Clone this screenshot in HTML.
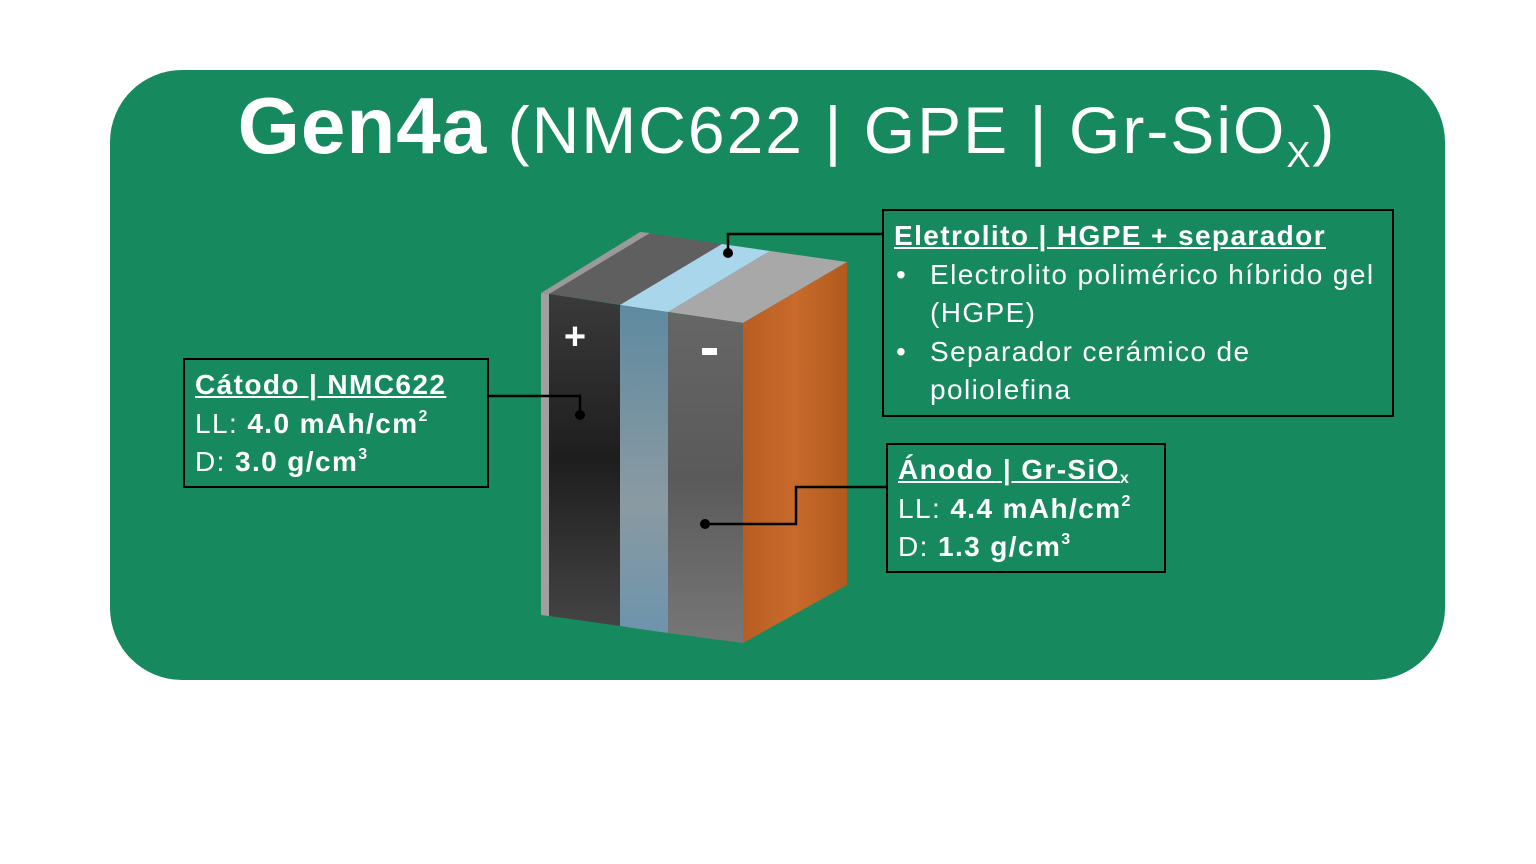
<!DOCTYPE html>
<html><head><meta charset="utf-8"><style>
body{margin:0;width:1536px;height:864px;background:#fff;position:relative;overflow:hidden;font-family:"Liberation Sans",sans-serif;}
.bg{position:absolute;left:110px;top:70px;width:1335px;height:610px;border-radius:72px;background:#168a5e;}
.title{position:absolute;left:0;width:1574px;top:80px;text-align:center;color:#fff;font-size:66px;white-space:nowrap;letter-spacing:2px;}
.title b{font-size:80px;letter-spacing:1px;}
.title sub{font-size:36px;vertical-align:-14px;}
.box{position:absolute;border:2.5px solid #000;color:#fff;font-size:28px;letter-spacing:1.4px;line-height:38.5px;box-sizing:border-box;padding:6px 10px;white-space:nowrap;}
.box u{font-weight:bold;}
.box sup{font-size:16px;vertical-align:12px;line-height:0}
.box sub{font-size:16px;vertical-align:-4px;line-height:0}
ul{margin:0;padding:0 0 0 36px;}
li{list-style:none;position:relative}
li:before{content:"•";position:absolute;left:-34px}
</style></head><body>
<div class="bg"></div>
<div class="title"><b>Gen4a</b> (NMC622 | GPE | Gr-SiO<sub>X</sub>)</div>
<svg width="1536" height="864" style="position:absolute;left:0;top:0">
<defs>
<linearGradient id="blk" x1="0" y1="0" x2="0" y2="1"><stop offset="0" stop-color="#3a3a3a"/><stop offset=".5" stop-color="#1e1e1e"/><stop offset="1" stop-color="#444"/></linearGradient>
<linearGradient id="blu" x1="0" y1="0" x2="0" y2="1"><stop offset="0" stop-color="#5e8aa0"/><stop offset=".6" stop-color="#8a9aa2"/><stop offset="1" stop-color="#6d94ac"/></linearGradient>
<linearGradient id="gry" x1="0" y1="0" x2="0" y2="1"><stop offset="0" stop-color="#666"/><stop offset=".5" stop-color="#5a5a5a"/><stop offset="1" stop-color="#777"/></linearGradient>
<linearGradient id="org" x1="0" y1="0" x2="1" y2="0"><stop offset="0" stop-color="#b85e22"/><stop offset=".5" stop-color="#c96a2c"/><stop offset="1" stop-color="#b05a1e"/></linearGradient>
</defs>
<polygon points="541,293 640,232 750,248 651,309" fill="#5f5f5f"/>
<polygon points="541,293 640,232 650,233 549,294" fill="#9a9a9a"/>
<polygon points="620,305 722,244 770,251 668,312" fill="#a9d6ea"/>
<polygon points="668,312 770,251 847,262 743,323" fill="#a8a8a8"/>
<polygon points="541,293 549,294 549,616 541,615" fill="#a0a0a0"/>
<polygon points="549,294 620,305 620,626 549,616" fill="url(#blk)"/>
<polygon points="620,305 668,312 668,633 620,626" fill="url(#blu)"/>
<polygon points="668,312 743,323 743,643 668,633" fill="url(#gry)"/>
<polygon points="743,323 847,262 847,585 743,643" fill="url(#org)"/>
<text x="575" y="349" fill="#fff" font-size="38" font-weight="bold" text-anchor="middle" font-family="Liberation Sans">+</text>
<rect x="702" y="348" width="15" height="7" fill="#fff"/>
<g stroke="#000" stroke-width="2.5" fill="none">
<polyline points="488,396 580,396 580,415"/>
<polyline points="883,234 728,234 728,253"/>
<polyline points="887,487 796,487 796,524 705,524"/>
</g>
<circle cx="580" cy="415" r="5" fill="#000"/>
<circle cx="728" cy="253" r="5" fill="#000"/>
<circle cx="705" cy="524" r="5" fill="#000"/>
</svg>
<div class="box" style="left:183px;top:358px;width:306px;height:130px;"><u>Cátodo | NMC622</u><br>LL: <b>4.0 mAh/cm<sup>2</sup></b><br>D: <b>3.0 g/cm<sup>3</sup></b></div>
<div class="box" style="left:882px;top:209px;width:512px;height:208px;"><u>Eletrolito | HGPE + separador</u>
<ul><li>Electrolito polimérico híbrido gel<br>(HGPE)</li><li>Separador cerámico de<br>poliolefina</li></ul></div>
<div class="box" style="left:886px;top:443px;width:280px;height:130px;"><u>Ánodo | Gr-SiO<sub>x</sub></u><br>LL: <b>4.4 mAh/cm<sup>2</sup></b><br>D: <b>1.3 g/cm<sup>3</sup></b></div>
</body></html>
